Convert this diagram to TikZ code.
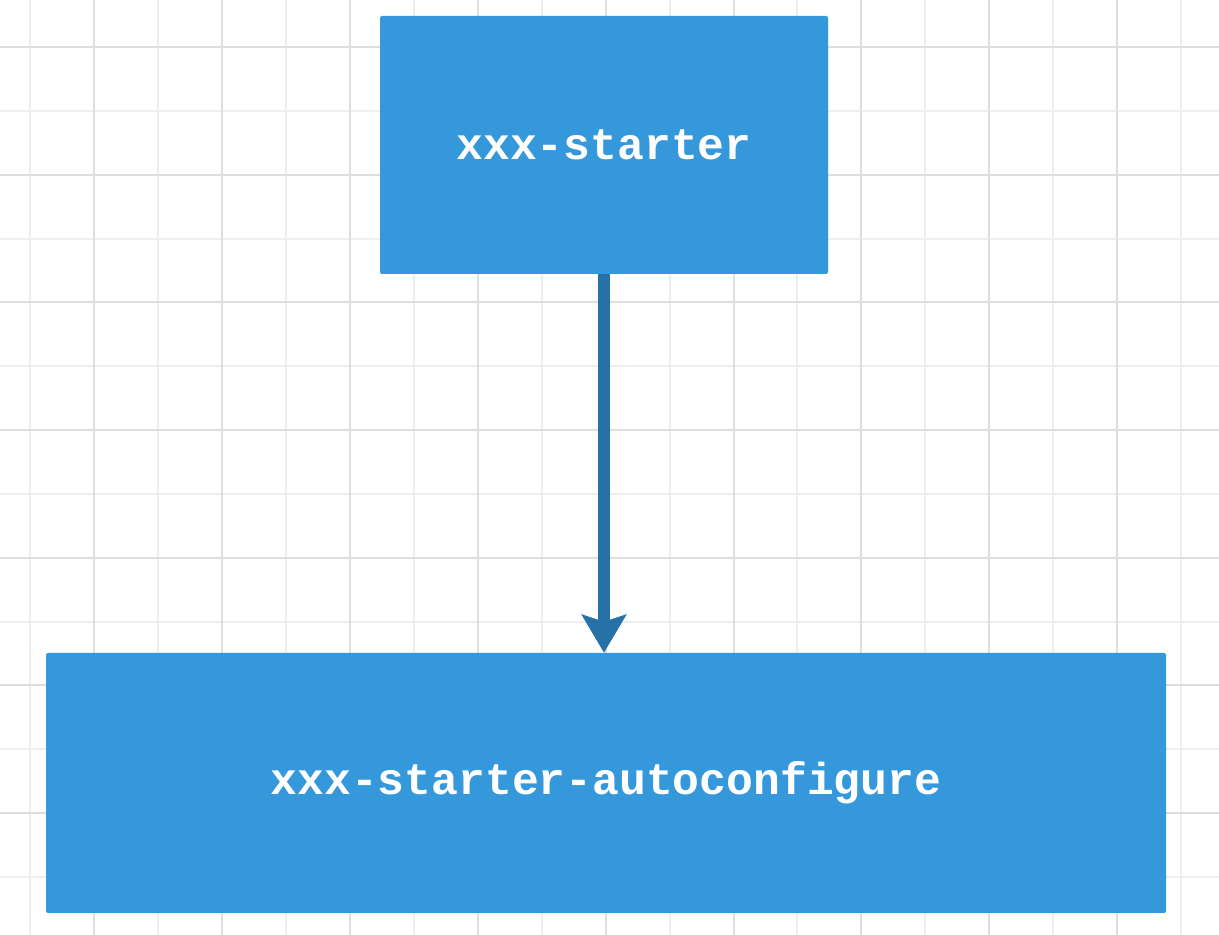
\documentclass[tikz,border=0pt]{standalone}
\usepackage{fontspec}
\usepackage{xcolor}
\usepackage{tikz}
\usetikzlibrary{positioning, arrows.meta}
\newfontfamily\modfont{Liberation Mono}
\definecolor{sbBlue}{RGB}{52, 152, 219}
\definecolor{sbArrow}{RGB}{38, 114, 166}
\definecolor{sbGridDark}{RGB}{222, 222, 222}
\definecolor{sbGridLight}{RGB}{238, 238, 238}
\tikzset{
    base/.style={
        font=\modfont\bfseries\fontsize{44.7}{50}\selectfont,
        align=center
    },
    module/.style={
        base,
        rectangle,
        rounded corners=2pt,
        fill=sbBlue,
        text=white,
        inner sep=0pt
    },
    flow/.style={
        -{Stealth[width=44pt, length=38pt, inset=7pt]},
        line width=12.5pt,
        color=sbArrow
    },
    gridMajor/.style={
        sbGridDark,
        line width=2pt
    },
    gridMinor/.style={
        sbGridLight,
        line width=2pt
    }
}

\begin{document}
\begin{tikzpicture}[x=1pt, y=1pt]
  \useasboundingbox (0,0) rectangle (1219,935);
  \fill[white] (0,0) rectangle (1219,935);

  % The grid
  \foreach \gx in {0,...,9}
    \draw[gridMinor] ({30+127.9*\gx},0) -- ({30+127.9*\gx},935);
  \foreach \gy in {0,...,6}
    \draw[gridMinor] (0,{935-111-127.7*\gy}) -- (1219,{935-111-127.7*\gy});
  \foreach \gx in {0,...,8}
    \draw[gridMajor] ({94+127.9*\gx},0) -- ({94+127.9*\gx},935);
  \foreach \gy in {0,...,6}
    \draw[gridMajor] (0,{935-47-127.7*\gy}) -- (1219,{935-47-127.7*\gy});

  % The modules
  \node[module, minimum width=448pt, minimum height=258pt] (starter) at (604,790) {xxx-starter};
  \node[module, minimum width=1120pt, minimum height=260pt] (autoconf) at (606,152) {xxx-starter-autoconfigure};

  \draw[flow] (starter.south) -- (starter.south |- autoconf.north);
\end{tikzpicture}
\end{document}
